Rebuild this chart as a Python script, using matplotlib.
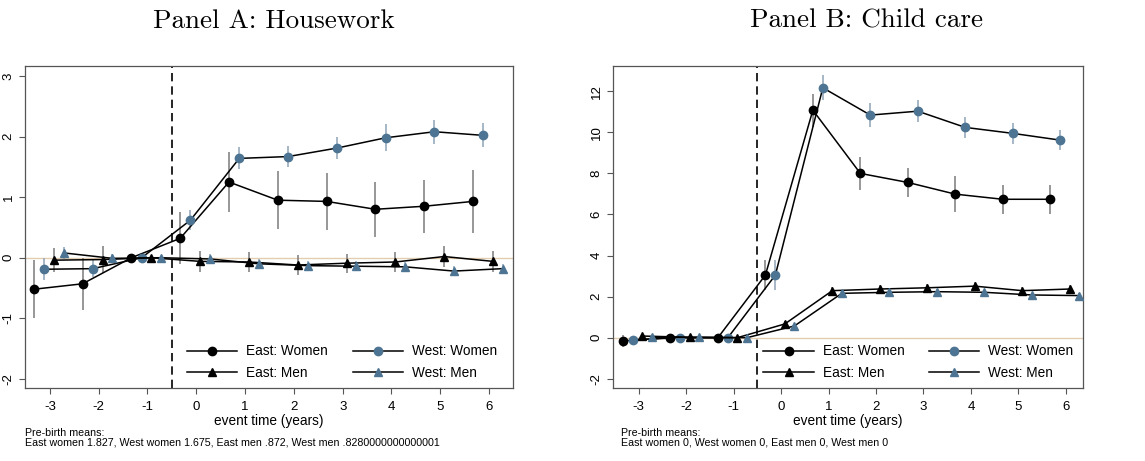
import numpy as np
import matplotlib
matplotlib.use('Agg')
import matplotlib.pyplot as plt

# event time (years) and small horizontal offsets per series
event_time = np.arange(-3, 7)
offsets = {'ew': -0.33, 'ww': -0.12, 'em': 0.08, 'wm': 0.28}

# Panel A: Housework
ew_a = [-0.52, -0.43, 0, 0.32, 1.25, 0.95, 0.93, 0.80, 0.85, 0.93]
ew_a_ci = [0.48, 0.43, 0, 0.43, 0.49, 0.48, 0.47, 0.45, 0.44, 0.52]
ww_a = [-0.19, -0.18, 0, 0.62, 1.64, 1.67, 1.81, 1.98, 2.08, 2.02]
ww_a_ci = [0.18, 0.14, 0, 0.16, 0.18, 0.18, 0.18, 0.22, 0.20, 0.20]
em_a = [-0.04, -0.03, 0, -0.06, -0.07, -0.12, -0.09, -0.07, 0.02, -0.06]
em_a_ci = [0.20, 0.22, 0, 0.17, 0.17, 0.16, 0.16, 0.16, 0.17, 0.17]
wm_a = [0.08, -0.01, 0, -0.02, -0.10, -0.13, -0.14, -0.15, -0.22, -0.18]
wm_a_ci = [0.10, 0.08, 0, 0.08, 0.08, 0.08, 0.08, 0.08, 0.08, 0.08]

# Panel B: Child care
ew_b = [-0.16, 0, 0, 3.05, 11.08, 8.0, 7.56, 6.99, 6.74, 6.74]
ew_b_ci = [0.30, 0.15, 0, 0.73, 0.80, 0.80, 0.70, 0.87, 0.70, 0.70]
ww_b = [-0.10, 0, 0, 3.05, 12.17, 10.84, 11.03, 10.24, 9.95, 9.62]
ww_b_ci = [0.15, 0.10, 0, 0.73, 0.60, 0.57, 0.53, 0.53, 0.50, 0.49]
em_b = [0.08, 0.02, 0, 0.67, 2.29, 2.37, 2.43, 2.51, 2.29, 2.37]
em_b_ci = [0.10, 0.10, 0, 0.15, 0.20, 0.20, 0.20, 0.20, 0.20, 0.20]
wm_b = [0.02, 0.02, 0, 0.57, 2.16, 2.21, 2.24, 2.21, 2.08, 2.05]
wm_b_ci = [0.08, 0.08, 0, 0.10, 0.12, 0.12, 0.12, 0.12, 0.12, 0.12]

titles = ['Panel A: Housework', 'Panel B: Child care']
notes = ['Pre-birth means:\nEast women 1.827, West women 1.675, East men .872, West men .8280000000000001',
         'Pre-birth means:\nEast women 0, West women 0, East men 0, West men 0']
yticks_a = [-2, -1, 0, 1, 2, 3]
yticks_b = [-2, 0, 2, 4, 6, 8, 10, 12]

plt.rcParams['font.family'] = ['Liberation Sans', 'DejaVu Sans']
plt.rcParams['axes.unicode_minus'] = False

BLUE = '#4d7492'


def draw_panel(ax, series, yticks, ylim, xlim, leg_x):
    ax.axhline(0, color='#e3cdb0', lw=1.0, zorder=0)
    ax.axvline(-0.5, color='black', lw=1.2, ls=(0, (5, 3)), zorder=1)
    styles = {'ew': ('o', 'black', '#7a7a7a', 'East: Women'),
              'ww': ('o', BLUE, '#8ea3b5', 'West: Women'),
              'em': ('^', 'black', '#7a7a7a', 'East: Men'),
              'wm': ('^', BLUE, '#8ea3b5', 'West: Men')}
    handles = {}
    for key in ['ew', 'ww', 'em', 'wm']:
        vals, ci = series[key]
        x = event_time + offsets[key]
        vals = np.array(vals)
        ci = np.array(ci)
        mk, mc, ec, lab = styles[key]
        ax.vlines(x, vals - ci, vals + ci, color=ec, lw=1.1, zorder=2)
        ms = 6 if mk == 'o' else 5.5
        h, = ax.plot(x, vals, color='black', lw=1.1, marker=mk, markersize=ms,
                     markerfacecolor=mc, markeredgecolor=mc, label=lab, zorder=3)
        handles[key] = h
    ax.set_xlim(*xlim)
    ax.set_ylim(*ylim)
    ax.set_xticks(range(-3, 7))
    ax.set_yticks(yticks)
    ax.tick_params(axis='both', labelsize=9.5, length=4, width=0.8, color='#555555', direction='out')
    ax.tick_params(axis='x', pad=5)
    for lbl in ax.get_yticklabels():
        lbl.set_rotation(90)
        lbl.set_va('center')
    for sp in ax.spines.values():
        sp.set_color('#555555')
        sp.set_linewidth(0.9)
    ax.set_xlabel('event time (years)', fontsize=9.8, labelpad=1)
    ax.legend([handles['ew'], handles['em'], handles['ww'], handles['wm']],
              ['East: Women', 'East: Men', 'West: Women', 'West: Men'],
              ncol=2, frameon=False, loc='lower right', bbox_to_anchor=(leg_x, 0.025),
              borderpad=0, borderaxespad=0, fontsize=9.8, handlelength=3.7,
              handletextpad=0.65, columnspacing=1.8, labelspacing=0.55)


fig = plt.figure(figsize=(11.45, 4.61), dpi=100)
ax1 = fig.add_axes([25 / 1145, 1 - 388 / 461, 488 / 1145, 322 / 461])
ax2 = fig.add_axes([613 / 1145, 1 - 388 / 461, 470 / 1145, 322 / 461])

draw_panel(ax1, {'ew': (ew_a, ew_a_ci), 'ww': (ww_a, ww_a_ci),
                 'em': (em_a, em_a_ci), 'wm': (wm_a, wm_a_ci)},
           yticks_a, (-2.15, 3.165), (-3.51, 6.49), 0.967)
draw_panel(ax2, {'ew': (ew_b, ew_b_ci), 'ww': (ww_b, ww_b_ci),
                 'em': (em_b, em_b_ci), 'wm': (wm_b, wm_b_ci)},
           yticks_b, (-2.45, 13.23), (-3.54, 6.36), 0.979)

fig.text(274 / 1145, 1 - 21 / 461, titles[0], family='cmr10', fontsize=19.5, ha='center', va='center')
fig.text(866 / 1145, 1 - 21 / 461, titles[1], family='cmr10', fontsize=19.5, ha='center', va='center')

fig.text(25 / 1145, 1 - 428 / 461, notes[0], fontsize=7.7, ha='left', va='top', linespacing=0.95)
fig.text(621 / 1145, 1 - 428 / 461, notes[1], fontsize=7.7, ha='left', va='top', linespacing=0.95)

fig.savefig('out.png', dpi=100)
